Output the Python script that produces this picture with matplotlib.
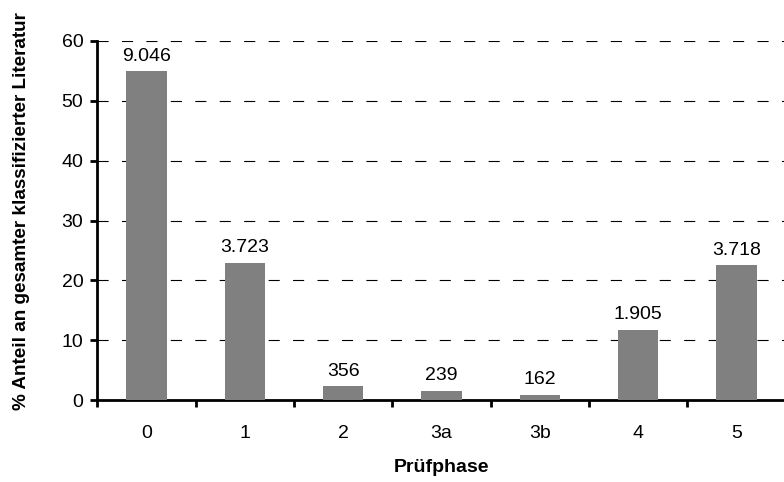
import numpy as np
import matplotlib
matplotlib.use('Agg')
import matplotlib.pyplot as plt

phases = ['0', '1', '2', '3a', '3b', '4', '5']
percent = [54.9, 22.9, 2.3, 1.5, 0.9, 11.7, 22.5]
counts = ['9.046', '3.723', '356', '239', '162', '1.905', '3.718']

plt.rcParams['font.family'] = ['Liberation Sans', 'DejaVu Sans']


def draw_plot():
    fig = plt.figure(figsize=(7.84, 4.82), dpi=100)
    ax = fig.add_axes([0.124, 0.17, 0.878, 0.745])

    x = np.arange(len(phases))
    ax.bar(x, percent, width=0.41, color='#808080', zorder=3)
    for xi, p, c in zip(x, percent, counts):
        ax.text(xi, p + 1.1, c, ha='center', va='bottom', fontsize=14)

    ax.set_xlim(-0.5, 6.5)
    ax.set_ylim(0, 60)
    ax.set_yticks(np.arange(0, 61, 10))
    ax.set_xticks(x)
    ax.set_xticklabels(phases, fontsize=14)
    ax.set_xticks(np.arange(-0.5, 6.5, 1), minor=True)
    ax.tick_params(axis='x', which='major', length=0, pad=18)
    ax.tick_params(axis='x', which='minor', length=5, width=2, direction='out')
    ax.tick_params(axis='y', length=5, width=2, labelsize=14, pad=5)

    ax.yaxis.grid(True, color='black', linestyle=(0, (10, 12)), linewidth=0.8, zorder=0)
    for s in ['top', 'right']:
        ax.spines[s].set_visible(False)
    for s in ['left', 'bottom']:
        ax.spines[s].set_linewidth(2)

    ax.set_xlabel('Prüfphase', fontweight='bold', fontsize=14, labelpad=12)
    ax.set_ylabel('% Anteil an gesamter klassifizierter Literatur', fontweight='bold',
                  fontsize=13.6)
    ax.yaxis.set_label_coords(-0.097, 0.526)

    fig.savefig('out.png', dpi=100)


if __name__ == '__main__':
    draw_plot()
